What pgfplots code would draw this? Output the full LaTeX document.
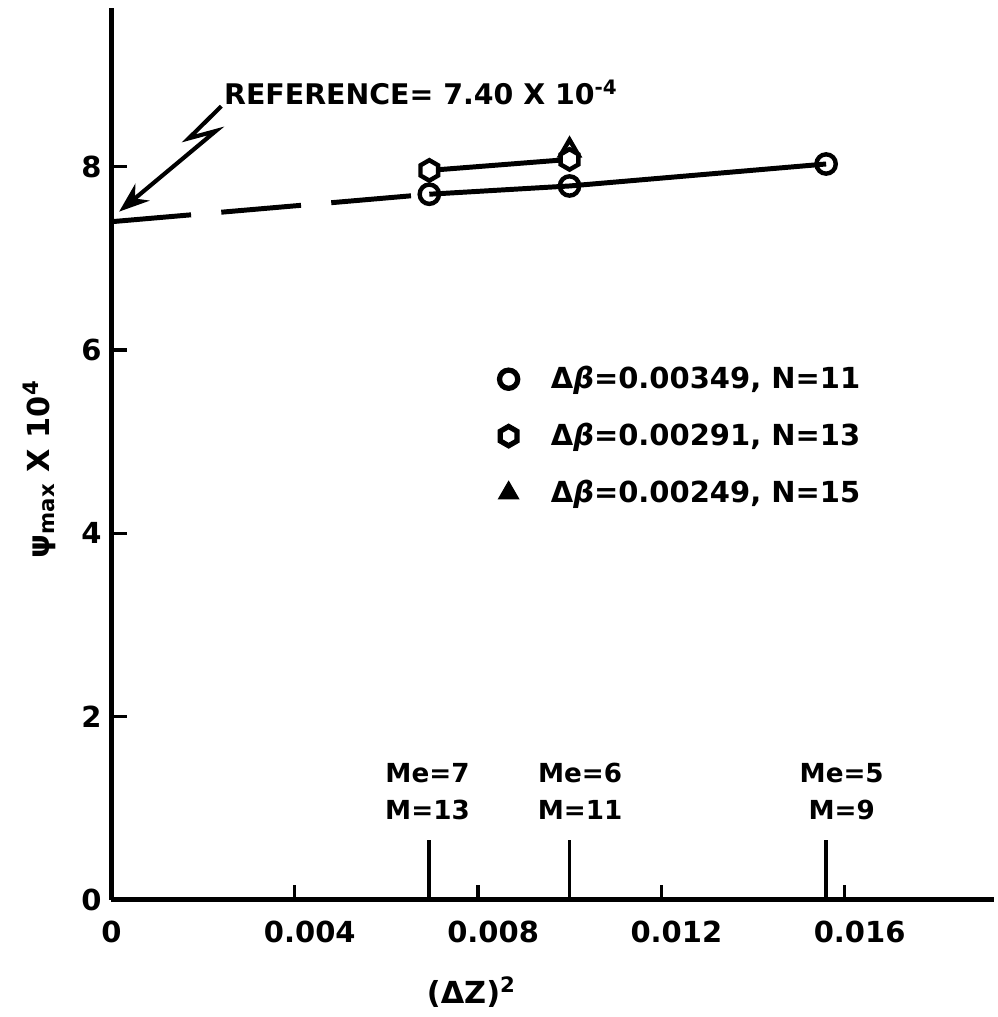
\documentclass[border=0pt]{standalone}
\usepackage{pgfplots}
\pgfplotsset{compat=1.18}
\usepackage{fontspec}
\setmainfont{DejaVu Sans}
\usetikzlibrary{arrows.meta}
\pgfdeclareplotmark{hexagon}{%
  \pgfpathmoveto{\pgfpointpolar{90}{\pgfplotmarksize}}%
  \pgfpathlineto{\pgfpointpolar{150}{\pgfplotmarksize}}%
  \pgfpathlineto{\pgfpointpolar{210}{\pgfplotmarksize}}%
  \pgfpathlineto{\pgfpointpolar{270}{\pgfplotmarksize}}%
  \pgfpathlineto{\pgfpointpolar{330}{\pgfplotmarksize}}%
  \pgfpathlineto{\pgfpointpolar{30}{\pgfplotmarksize}}%
  \pgfpathclose
  \pgfusepathqfillstroke}
\begin{document}
\begin{tikzpicture}
\begin{axis}[
  scale only axis, width=320pt, height=323.1pt,
  xmin=0, xmax=0.01927, ymin=0, ymax=9.73,
  axis lines=left, axis line style={-, line width=2pt},
  xtick={0,0.004,0.008,0.012,0.016},
  xticklabels={\hspace*{-11pt}0,0.004,0.008,0.012,0.016},
  ytick={0,2,4,6,8},
  scaled x ticks=false,
  tick align=inside, major tick length=5.5pt,
  tick style={line width=1.2pt, black},
  xticklabel style={xshift=5.5pt, yshift=-4pt},
  every tick label/.append style={font=\bfseries\fontsize{10.5}{12}\selectfont},
  /pgf/number format/assume math mode=true,
  clip=false,
  xlabel={(ΔZ)\textsuperscript{2}},
  xlabel style={at={(rel axis cs:0.408,-0.104)}, anchor=center, font=\bfseries\fontsize{11}{13}\selectfont},
  ylabel={ψ\textsubscript{max} X 10\textsuperscript{4}},
  ylabel style={at={(rel axis cs:-0.081,0.483)}, anchor=center, font=\bfseries\fontsize{11}{13}\selectfont},
  legend style={at={(axis cs:0.00846,5.06)}, anchor=west, draw=none, fill=none, inner sep=0pt,
    font=\bfseries\fontsize{10.5}{12}\selectfont, row sep=7pt,
    /tikz/every odd column/.append style={column sep=10pt}},
  legend cell align=left,
]
% bounding box of the whole picture
\path (axis cs:-0.00243,-1.203) rectangle (axis cs:0.01927,9.82);

% reference extrapolation (dashed)
\addplot[forget plot, line width=1.8pt, dash pattern=on 29pt off 11pt] coordinates {(0,7.40) (0.00694,7.70)};
% triangle
\addplot[forget plot, only marks, mark=triangle, mark size=3.8pt, mark options={fill=white, line width=1.6pt}] coordinates {(0.01,8.18)};
% circles
\addplot[forget plot, line width=1.8pt, mark=o, mark size=3.5pt, mark options={solid, fill=white, line width=1.6pt}] coordinates {(0.00694,7.70) (0.01,7.79) (0.0156,8.03)};
% hexagons
\addplot[forget plot, line width=1.8pt, mark=hexagon, mark size=3.7pt, mark options={solid, fill=white, line width=1.6pt}] coordinates {(0.00694,7.96) (0.01,8.08)};

% Me / M marker ticks
\addplot[forget plot, ycomb, no marks, line width=1.4pt] coordinates {(0.00694,0.65) (0.01,0.65) (0.0156,0.65)};

\addlegendimage{only marks, mark=o, mark size=3.3pt, mark options={line width=1.9pt}}
\addlegendentry{Δ\textit{β}=0.00349, N=11}
\addlegendimage{only marks, mark=hexagon, mark size=3.5pt, mark options={fill=white, line width=1.9pt}}
\addlegendentry{Δ\textit{β}=0.00291, N=13}
\addlegendimage{only marks, mark=triangle*, mark size=3.6pt, mark options={line width=1pt}}
\addlegendentry{Δ\textit{β}=0.00249, N=15}

\node[anchor=base west, font=\bfseries\fontsize{10.3}{12}\selectfont, inner sep=0pt] at (axis cs:0.00245,8.68) {REFERENCE= 7.40 X 10\textsuperscript{-4}};
\draw[line width=1.5pt, -{Stealth[length=11pt,width=8pt]}] (axis cs:0.00240,8.66) -- (axis cs:0.00169,8.31) -- (axis cs:0.00228,8.39) -- (axis cs:0.00017,7.51);

\node[align=center, font=\bfseries\fontsize{9.5}{13.3}\selectfont] at (axis cs:0.00690,1.18) {Me=7\\M=13};
\node[align=center, font=\bfseries\fontsize{9.5}{13.3}\selectfont] at (axis cs:0.01023,1.18) {Me=6\\M=11};
\node[align=center, font=\bfseries\fontsize{9.5}{13.3}\selectfont] at (axis cs:0.01594,1.18) {Me=5\\M=9};
\end{axis}
\end{tikzpicture}
\end{document}
